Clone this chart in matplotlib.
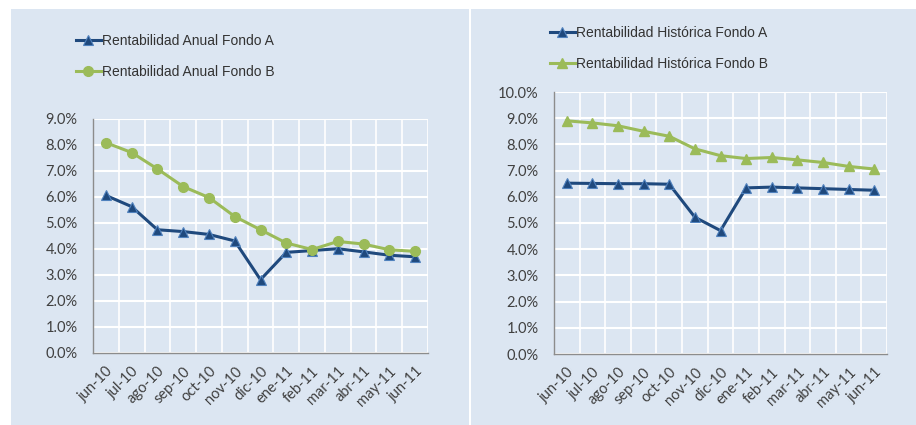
import matplotlib
matplotlib.use('Agg')
import matplotlib.pyplot as plt
from matplotlib.patches import Rectangle
from matplotlib.ticker import FuncFormatter, FixedLocator

# Data (percent)
months = ['jun-10', 'jul-10', 'ago-10', 'sep-10', 'oct-10', 'nov-10', 'dic-10',
          'ene-11', 'feb-11', 'mar-11', 'abr-11', 'may-11', 'jun-11']
anual_a = [6.06, 5.63, 4.74, 4.67, 4.56, 4.31, 2.82, 3.87, 3.94, 4.01, 3.89, 3.76, 3.70]
anual_b = [8.09, 7.71, 7.08, 6.40, 5.98, 5.25, 4.74, 4.23, 3.98, 4.29, 4.19, 3.97, 3.91]
hist_a = [6.52, 6.51, 6.50, 6.50, 6.48, 5.22, 4.71, 6.34, 6.37, 6.34, 6.31, 6.28, 6.25]
hist_b = [8.90, 8.82, 8.71, 8.50, 8.31, 7.83, 7.57, 7.46, 7.50, 7.41, 7.31, 7.16, 7.06]

BG = '#DCE6F2'
BLUE = '#1F497D'
BLUE_EDGE = '#4F81BD'
GREEN = '#9BBB59'
TXT = '#404040'

fig = plt.figure(figsize=(9.16, 4.25), dpi=100)
fig.patch.set_facecolor('white')

# panel backgrounds
fig.patches.append(Rectangle((11 / 916, 0), 458 / 916, 416 / 425, transform=fig.transFigure,
                             facecolor=BG, edgecolor='none', zorder=-10))
fig.patches.append(Rectangle((471 / 916, 0), 445 / 916, 416 / 425, transform=fig.transFigure,
                             facecolor=BG, edgecolor='none', zorder=-10))


def style_axis(ax, ymax):
    x = range(len(months))
    ax.set_facecolor(BG)
    ax.set_xlim(-0.5, len(months) - 0.5)
    ax.set_ylim(0, ymax)
    ax.set_yticks([i for i in range(0, int(ymax) + 1)])
    ax.yaxis.set_major_formatter(FuncFormatter(lambda v, p: '%.1f%%' % v))
    ax.set_xticks(list(x))
    ax.set_xticklabels(months, rotation=45, ha='right', rotation_mode='anchor',
                       fontsize=10.5, color=TXT, family='Lato')
    ax.xaxis.set_minor_locator(FixedLocator([i + 0.5 for i in range(len(months))]))
    ax.tick_params(axis='x', which='both', length=0, pad=8)
    ax.tick_params(axis='y', length=0, pad=11, labelsize=10.5, labelcolor=TXT)
    for lab in ax.get_yticklabels():
        lab.set_family('Lato')
    ax.grid(True, axis='y', color='white', linewidth=1.5, zorder=0)
    ax.grid(True, axis='x', which='minor', color='white', linewidth=1.2, zorder=0)
    ax.set_axisbelow(True)
    for s in ['top', 'right']:
        ax.spines[s].set_visible(False)
    ax.spines['left'].set_color('#8C8C8C')
    ax.spines['bottom'].set_color('#8C8C8C')
    ax.spines['left'].set_linewidth(1.0)
    ax.spines['bottom'].set_linewidth(1.0)


# Left chart
ax1 = fig.add_axes([93 / 916, 1 - 353 / 425, 335 / 916, 234 / 425])
style_axis(ax1, 9)
ax1.plot(months, anual_a, color=BLUE, linewidth=2.2, marker='^', markersize=7.5,
         markerfacecolor=BLUE, markeredgecolor=BLUE_EDGE, markeredgewidth=0.8,
         label='Rentabilidad Anual Fondo A', zorder=3)
ax1.plot(months, anual_b, color=GREEN, linewidth=2.2, marker='o', markersize=7,
         markerfacecolor=GREEN, markeredgecolor=GREEN,
         label='Rentabilidad Anual Fondo B', zorder=3)
ax1.legend(loc='upper left', bbox_to_anchor=(69 / 916, 1 - 27 / 425),
           bbox_transform=fig.transFigure, frameon=False, borderpad=0,
           handlelength=1.8, handletextpad=0.1, labelspacing=1.2,
           prop={'family': 'Liberation Sans', 'size': 10}, labelcolor='#333333')

# Right chart
ax2 = fig.add_axes([554 / 916, 1 - 354 / 425, 333 / 916, 262 / 425])
style_axis(ax2, 10)
ax2.plot(months, hist_a, color=BLUE, linewidth=2.2, marker='^', markersize=7.5,
         markerfacecolor=BLUE, markeredgecolor=BLUE_EDGE, markeredgewidth=0.8,
         label='Rentabilidad Histórica Fondo A', zorder=3)
ax2.plot(months, hist_b, color=GREEN, linewidth=2.2, marker='^', markersize=7.5,
         markerfacecolor=GREEN, markeredgecolor=GREEN,
         label='Rentabilidad Histórica Fondo B', zorder=3)
ax2.legend(loc='upper left', bbox_to_anchor=(543 / 916, 1 - 19 / 425),
           bbox_transform=fig.transFigure, frameon=False, borderpad=0,
           handlelength=1.8, handletextpad=0.1, labelspacing=1.2,
           prop={'family': 'Liberation Sans', 'size': 10}, labelcolor='#333333')

fig.savefig('out.png', dpi=100, facecolor='white')
